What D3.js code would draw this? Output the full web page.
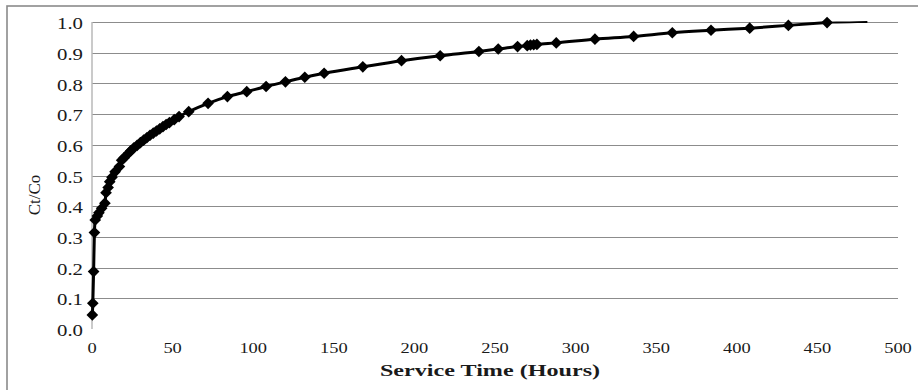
<!DOCTYPE html>
<html>
<head>
<meta charset="utf-8">
<script src="https://cdn.jsdelivr.net/npm/d3@7"></script>
<style>
  html, body { margin: 0; padding: 0; background: #fff; }
  svg { display: block; }
  text { font-family: "Liberation Serif", "Times New Roman", serif; fill: #1a1a1a; }
</style>
</head>
<body>
<svg id="chart" width="918" height="390"></svg>
<script>
// Breakthrough curve: service time (hours) vs Ct/Co
const hours = [0.2, 0.5, 1, 1.5, 2, 3.3, 4.3, 6, 8, 8.7, 10, 11, 12.4, 14.3, 17, 18.4, 20, 22.5,
  24, 26, 28, 30, 32, 34, 36, 38, 40, 42, 44, 46, 48, 51, 54, 60, 72, 84, 96, 108, 120, 132, 144,
  168, 192, 216, 240, 252, 264, 270, 272, 274, 276, 288, 312, 336, 360, 384, 408, 432, 456];
const ctc0 = [0.046, 0.084, 0.187, 0.314, 0.355, 0.368, 0.379, 0.393, 0.41, 0.444, 0.461, 0.48, 0.494, 0.512, 0.529, 0.55, 0.558, 0.572,
  0.58, 0.59, 0.598, 0.607, 0.615, 0.623, 0.631, 0.638, 0.645, 0.652, 0.659, 0.666, 0.672, 0.682, 0.692, 0.708, 0.735, 0.757, 0.773, 0.79, 0.805, 0.82, 0.833,
  0.854, 0.874, 0.89, 0.904, 0.912, 0.92, 0.923, 0.925, 0.926, 0.927, 0.932, 0.944, 0.953, 0.965, 0.973, 0.98, 0.989, 0.998];
// continuation of the curve past the last measurement
const tailHours = [456, 470, 481];
const tailValues = [0.998, 0.999, 1.0];

const xTicks = [0, 50, 100, 150, 200, 250, 300, 350, 400, 450, 500];
const yTicks = [0.0, 0.1, 0.2, 0.3, 0.4, 0.5, 0.6, 0.7, 0.8, 0.9, 1.0];
const xTitle = "Service Time (Hours)";
const yTitle = "Ct/Co";

const svg = d3.select("#chart");
const x = d3.scaleLinear().domain([0, 500]).range([92, 898]);
const y = d3.scaleLinear().domain([0, 1]).range([329, 22]);
const sx = 1.23; // horizontal stretch of the lettering

// outer chart frame
svg.append("rect").attr("x", 7).attr("y", 6).attr("width", 930).attr("height", 400)
  .attr("fill", "none").attr("stroke", "#8a8a8a").attr("stroke-width", 1.6);

// horizontal gridlines
svg.append("g").selectAll("line").data(yTicks.filter(d => d > 0)).join("line")
  .attr("x1", x(0)).attr("x2", x(500))
  .attr("y1", d => Math.round(y(d)) + 0.5).attr("y2", d => Math.round(y(d)) + 0.5)
  .attr("stroke", "#8c8c8c").attr("stroke-width", 1.2);

// vertical axis line
svg.append("line").attr("x1", x(0)).attr("x2", x(0)).attr("y1", y(1)).attr("y2", y(0))
  .attr("stroke", "#b8b8b8").attr("stroke-width", 1.5);

// y tick labels
svg.append("g").selectAll("text").data(yTicks).join("text")
  .attr("transform", d => `translate(83,${y(d) + 1.5}) scale(1.3,1)`)
  .attr("text-anchor", "end").attr("dy", "0.35em").attr("font-size", 16)
  .text(d => d3.format(".1f")(d));

// x tick labels
svg.append("g").selectAll("text").data(xTicks).join("text")
  .attr("transform", d => `translate(${x(d)},353) scale(${sx},1)`)
  .attr("text-anchor", "middle").attr("font-size", 15)
  .text(d => d);

// axis titles
svg.append("text")
  .attr("transform", `translate(${(x(0) + x(500)) / 2 - 5},376) scale(1.42,1)`)
  .attr("text-anchor", "middle").attr("font-size", 17).attr("font-weight", "bold")
  .text(xTitle);
svg.append("text")
  .attr("transform", `translate(40,195) rotate(-90)`)
  .attr("text-anchor", "middle").attr("font-size", 17)
  .text(yTitle);

// curve
const pts = hours.map((h, i) => [h, ctc0[i]]);
const line = d3.line().x(d => x(d[0])).y(d => y(d[1])).curve(d3.curveMonotoneX);
svg.append("path").datum(pts).attr("d", line)
  .attr("fill", "none").attr("stroke", "#000").attr("stroke-width", 3);
svg.append("path").datum(tailHours.map((h, i) => [h, tailValues[i]])).attr("d", line)
  .attr("fill", "none").attr("stroke", "#000").attr("stroke-width", 1.8);

// diamond markers
const diamond = d3.symbol().type(d3.symbolSquare).size(68);
svg.append("g").selectAll("path").data(pts).join("path")
  .attr("transform", d => `translate(${x(d[0])},${y(d[1])}) rotate(45)`)
  .attr("d", diamond).attr("fill", "#000");
</script>
</body>
</html>
